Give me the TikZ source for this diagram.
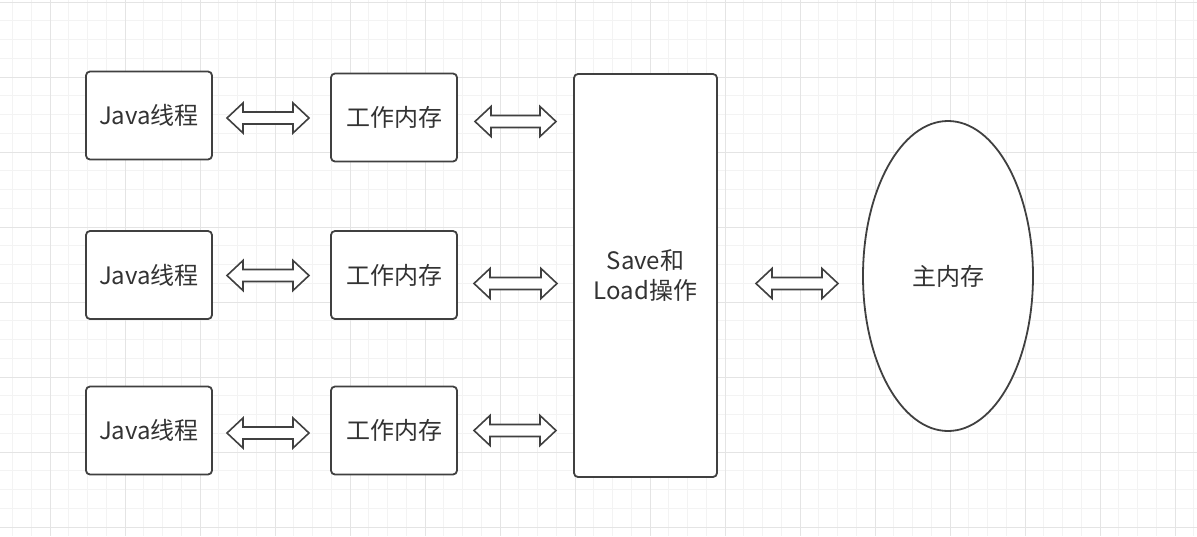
\documentclass[tikz,border=0pt]{standalone}
\usepackage{fontspec}
\setmainfont{Noto Sans CJK SC}
\usepackage{tikz}
\usetikzlibrary{shapes.geometric, calc}

\definecolor{edge}{HTML}{404040}
\definecolor{ink}{HTML}{333333}
\definecolor{minorgrid}{HTML}{F3F3F3}
\definecolor{majorgrid}{HTML}{E4E4E4}

% hollow two-way block arrow between two points at the same height
\newcommand{\biarrow}[2]{%
  \draw[twoway] (#1) -- ++(16,-15) -- ++(0,9) -- ($(#2)+(-16,-6)$) -- ++(0,-9) -- (#2)
    -- ++(-16,15) -- ++(0,-9) -- ($(#1)+(16,6)$) -- ++(0,9) -- cycle;}

\begin{document}
\begin{tikzpicture}[x=1pt, y=-1pt,
    font=\fontsize{24pt}{30pt}\selectfont,
    box/.style = {draw=edge, line width=1.8pt, rounded corners=4pt, fill=white, text=ink,
                  minimum width=126pt, minimum height=88pt, inner sep=0pt},
    twoway/.style = {draw=edge, line width=1.6pt, fill=white, line join=miter}]
    \useasboundingbox (0,0) rectangle (1197,536);
    \fill[white] (0,0) rectangle (1197,536);

    \foreach \gx in {12.5,31.25,...,1197} \draw[minorgrid, line width=1pt] (\gx,0) -- (\gx,536);
    \foreach \gy in {2,20.75,...,536} \draw[minorgrid, line width=1pt] (0,\gy) -- (1197,\gy);
    \foreach \gx in {50,125,...,1197} \draw[majorgrid, line width=1pt] (\gx,0) -- (\gx,536);
    \foreach \gy in {2,77,...,536} \draw[majorgrid, line width=1pt] (0,\gy) -- (1197,\gy);

    \node[box] (j1) at (149,115.5) {Java线程};
    \node[box] (j2) at (149,275)   {Java线程};
    \node[box] (j3) at (149,430.5) {Java线程};

    \node[box] (w1) at (394,117.5) {工作内存};
    \node[box] (w2) at (394,275)   {工作内存};
    \node[box] (w3) at (394,430.5) {工作内存};

    \node[box, minimum width=143pt, minimum height=403pt, align=center] (sl) at (645.5,275.5) {Save和\\Load操作};
    \node[ellipse, draw=edge, line width=1.8pt, fill=white, text=ink, inner sep=0pt,
          minimum width=170pt, minimum height=310pt] (mm) at (948,276) {主内存};

    \coordinate (a1) at (227,118);   \coordinate (b1) at (309,118);
    \coordinate (a2) at (227,275.5); \coordinate (b2) at (309,275.5);
    \coordinate (a3) at (227,433);   \coordinate (b3) at (309,433);
    \coordinate (c1) at (475,121.5); \coordinate (d1) at (556,121.5);
    \coordinate (c2) at (474,283.5); \coordinate (d2) at (557,283.5);
    \coordinate (c3) at (474,430.5); \coordinate (d3) at (556,430.5);
    \coordinate (e) at (756,283.5);  \coordinate (f) at (838,283.5);

    \biarrow{a1}{b1}
    \biarrow{a2}{b2}
    \biarrow{a3}{b3}
    \biarrow{c1}{d1}
    \biarrow{c2}{d2}
    \biarrow{c3}{d3}
    \biarrow{e}{f}
\end{tikzpicture}
\end{document}
